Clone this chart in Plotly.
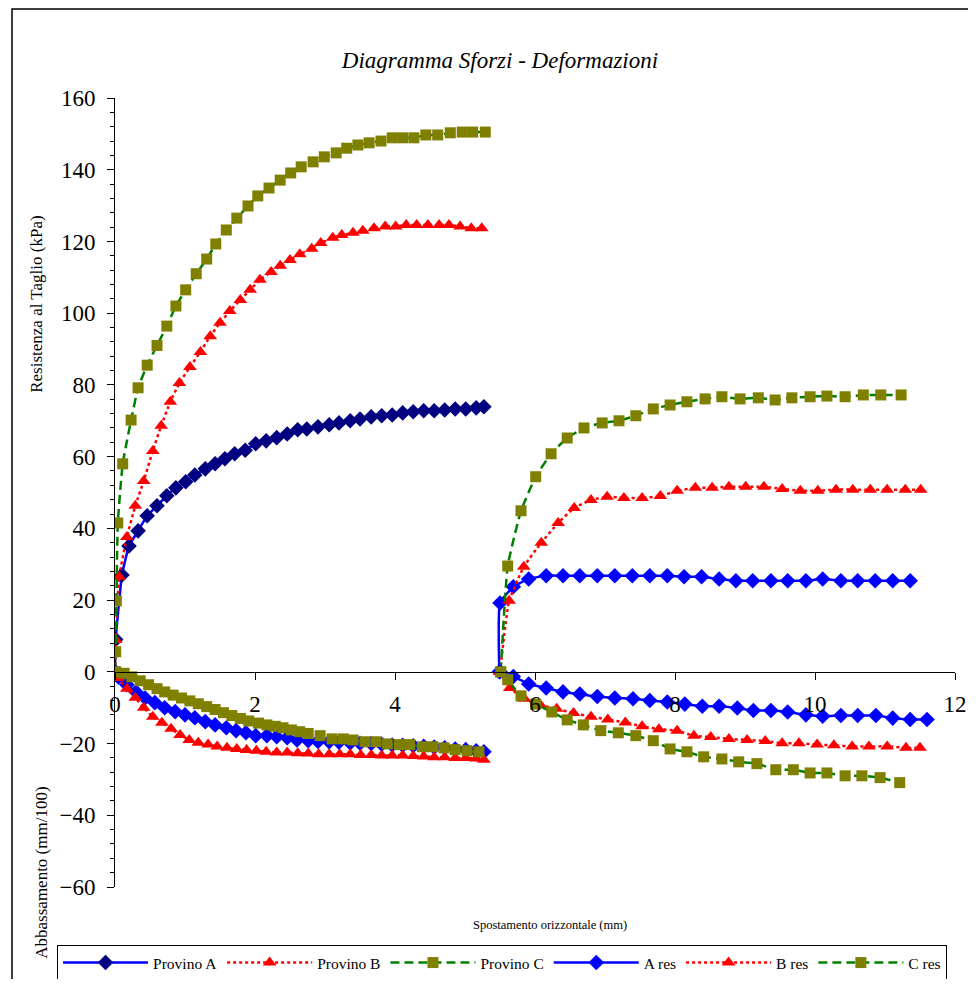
import plotly.graph_objects as go

# ---- data (mm, kPa / mm/100) ----
# shear stress, first run
A_x = [0, 0.01, 0.1, 0.2, 0.33, 0.46, 0.6, 0.74, 0.87, 1.01, 1.14, 1.29, 1.43, 1.57, 1.71, 1.86, 2.01, 2.16, 2.31, 2.46,
       2.61, 2.74, 2.9, 3.06, 3.2, 3.36, 3.5, 3.66, 3.81, 3.96, 4.11, 4.26, 4.41, 4.56, 4.71, 4.86, 5.01, 5.16, 5.27]
A_y = [0, 9, 27, 35.1, 39.3, 43.5, 46.3, 49.1, 51.3, 53, 54.9, 56.6, 58, 59.4, 60.8, 61.8, 63.6, 64.4, 65.3, 66.3,
       67.5, 67.7, 68.3, 68.9, 69.4, 70, 70.5, 71.1, 71.4, 71.6, 72.2, 72.5, 72.8, 72.8, 73, 73.3, 73.3, 73.6, 73.9]
B_x = [0, 0.01, 0.06, 0.17, 0.29, 0.41, 0.54, 0.66, 0.79, 0.92, 1.07, 1.22, 1.36, 1.5, 1.64, 1.79, 1.93, 2.07, 2.23, 2.36,
       2.5, 2.64, 2.81, 2.94, 3.11, 3.24, 3.4, 3.54, 3.7, 3.86, 4.01, 4.16, 4.31, 4.47, 4.63, 4.77, 4.93, 5.09, 5.24]
B_y = [0, 8.9, 26.5, 37.6, 46.3, 53.2, 61.6, 68.6, 75.3, 80.5, 85, 89.2, 93.6, 97.3, 100.6, 103.7, 106.5, 109.3, 111.5, 113.2,
       114.8, 116.4, 118, 119.6, 121, 121.8, 122.4, 123, 123.7, 124.2, 124.2, 124.6, 124.6, 124.6, 124.6, 124.6, 124.2, 123.7, 123.7]
C_x = [0, 0.01, 0.02, 0.04, 0.11, 0.23, 0.33, 0.46, 0.6, 0.74, 0.87, 1.01, 1.16, 1.31, 1.44, 1.59, 1.74, 1.9, 2.04, 2.2,
       2.36, 2.51, 2.66, 2.83, 2.99, 3.16, 3.31, 3.47, 3.63, 3.8, 3.96, 4.11, 4.27, 4.44, 4.61, 4.79, 4.96, 5.11, 5.29]
C_y = [0, 5.6, 19.8, 41.5, 58, 70.2, 79.2, 85.5, 91, 96.4, 102, 106.5, 111, 115.1, 119.3, 123.2, 126.5, 129.9, 132.7, 134.9,
       137.1, 139.1, 140.8, 142.2, 143.6, 144.7, 146, 146.9, 147.5, 148, 148.9, 148.9, 148.9, 149.7, 149.7, 150.3, 150.5, 150.5, 150.5]

# settlement (abbassamento), first run
A_abb_x = [0, 0.05, 0.17, 0.3, 0.43, 0.57, 0.71, 0.86, 1.0, 1.14, 1.29, 1.43, 1.59, 1.73, 1.87, 2.01, 2.17, 2.31, 2.46,
           2.6, 2.76, 2.9, 3.06, 3.2, 3.36, 3.5, 3.66, 3.81, 3.96, 4.11, 4.26, 4.41, 4.56, 4.71, 4.86, 5.01, 5.16, 5.27]
A_abb_y = [0, -1.5, -3.6, -5.6, -7.3, -8.6, -10, -11.1, -12, -12.8, -13.9, -14.8, -15.6, -16.4, -17, -17.8, -17.8, -18.1, -18.4,
           -19, -19.2, -19.4, -19.5, -19.6, -19.8, -19.9, -20, -20.2, -20.4, -20.5, -20.6, -20.8, -21, -21.2, -21.5, -21.7, -22, -22.3]
B_abb_x = [0, 0.04, 0.17, 0.29, 0.41, 0.54, 0.67, 0.8, 0.93, 1.06, 1.19, 1.33, 1.46, 1.6, 1.74, 1.88, 2.02, 2.16, 2.31, 2.46,
           2.61, 2.76, 2.91, 3.06, 3.21, 3.36, 3.51, 3.66, 3.81, 3.96, 4.11, 4.26, 4.41, 4.56, 4.71, 4.86, 5.01, 5.16, 5.27]
B_abb_y = [0, -1.7, -4.7, -7.2, -10, -12.5, -14.2, -15.9, -17.6, -19, -19.8, -20.3, -20.8, -21.2, -21.5, -21.8, -22, -22.3, -22.5, -22.5,
           -22.7, -22.8, -23, -23, -23, -23, -23.2, -23.2, -23.3, -23.3, -23.3, -23.5, -23.6, -23.8, -23.8, -24, -24, -24.2, -24.5]
C_abb_x = [0.01, 0.13, 0.24, 0.36, 0.48, 0.6, 0.71, 0.83, 0.95, 1.07, 1.19, 1.31, 1.43, 1.55, 1.67, 1.79, 1.91, 2.05, 2.17, 2.29,
           2.4, 2.52, 2.64, 2.76, 2.93, 3.1, 3.26, 3.4, 3.57, 3.73, 3.89, 4.06, 4.21, 4.39, 4.54, 4.7, 4.86, 5.03, 5.2]
C_abb_y = [0, -0.4, -1.4, -2.5, -3.6, -4.7, -5.6, -6.5, -7.3, -8.1, -8.9, -9.7, -10.5, -11.4, -12.2, -13, -13.7, -14.3, -14.8, -15.2,
           -15.6, -16.2, -16.7, -17.2, -17.8, -18.7, -18.7, -19, -19.5, -19.5, -20.1, -20.3, -20.3, -20.9, -20.9, -21.2, -21.7, -22, -22.3]

# residual runs, shear
Ares_x = [5.49, 5.5, 5.69, 5.91, 6.16, 6.4, 6.64, 6.89, 7.14, 7.39, 7.64, 7.89, 8.13, 8.38, 8.63, 8.87, 9.11, 9.37, 9.61,
          9.87, 10.11, 10.37, 10.61, 10.86, 11.11, 11.36]
Ares_y = [0, 19.2, 23.7, 25.9, 26.8, 26.8, 26.8, 26.8, 26.8, 26.8, 26.8, 26.8, 26.5, 26.5, 25.9, 25.4, 25.4, 25.4, 25.4,
          25.4, 25.9, 25.4, 25.4, 25.4, 25.4, 25.4]
Bres_x = [5.5, 5.63, 5.84, 6.09, 6.33, 6.56, 6.8, 7.03, 7.27, 7.53, 7.79, 8.03, 8.29, 8.53, 8.77, 9.01, 9.27, 9.53, 9.79,
          10.04, 10.3, 10.54, 10.79, 11.03, 11.29, 11.51]
Bres_y = [0, 19.8, 29.3, 36, 41.5, 45.7, 47.9, 48.8, 48.5, 48.5, 49, 50.5, 51.3, 51.3, 51.6, 51.6, 51.6, 51, 50.5,
          50.5, 50.8, 50.8, 50.8, 50.8, 50.8, 50.8]
Cres_x = [5.51, 5.61, 5.8, 6.01, 6.23, 6.46, 6.7, 6.96, 7.2, 7.44, 7.69, 7.93, 8.17, 8.43, 8.67, 8.93, 9.19, 9.43, 9.67,
          9.93, 10.17, 10.43, 10.69, 10.94, 11.23]
Cres_y = [0, 29.5, 44.9, 54.4, 60.8, 65.2, 68, 69.4, 70, 71.4, 73.3, 74.4, 75.3, 76.1, 76.7, 76.1, 76.4, 75.8, 76.4,
          76.7, 76.9, 76.7, 77.2, 77.2, 77.2]

# residual runs, settlement
Ares_abb_x = [5.5, 5.69, 5.91, 6.16, 6.4, 6.64, 6.89, 7.14, 7.4, 7.64, 7.89, 8.14, 8.39, 8.63, 8.89, 9.12, 9.37, 9.61,
              9.87, 10.11, 10.37, 10.61, 10.87, 11.11, 11.36, 11.6]
Ares_abb_y = [0, -1.3, -3.4, -4.5, -5.6, -6.2, -6.9, -7.3, -7.5, -8, -8.4, -9, -9.6, -9.6, -10.1, -10.8, -10.8, -11.2,
              -12, -12.4, -12.2, -12.2, -12.2, -12.9, -13.3, -13.3]
Bres_abb_x = [5.5, 5.64, 5.85, 6.08, 6.31, 6.55, 6.8, 7.04, 7.29, 7.53, 7.77, 8.03, 8.27, 8.51, 8.77, 9.03, 9.29, 9.53,
              9.77, 10.03, 10.27, 10.53, 10.77, 11.03, 11.3, 11.5]
Bres_abb_y = [0, -4.5, -7.5, -9.3, -10.3, -11.5, -12.5, -13.3, -14.1, -15.2, -16, -16.4, -17.8, -18.2, -18.7, -19, -19.3,
              -19.9, -19.9, -20.3, -20.5, -20.8, -20.8, -20.8, -21.2, -21.2]
Cres_abb_x = [5.51, 5.61, 5.8, 6.01, 6.24, 6.46, 6.69, 6.94, 7.19, 7.44, 7.69, 7.93, 8.17, 8.41, 8.67, 8.91, 9.17, 9.44,
              9.69, 9.93, 10.17, 10.43, 10.67, 10.93, 11.21]
Cres_abb_y = [0, -2.2, -6.7, -9, -11.2, -13.4, -14.8, -16.4, -17, -17.8, -19.2, -21.5, -22.3, -23.7, -24.3, -25.1, -25.6,
              -27.3, -27.3, -28.2, -28.2, -29, -29, -29.5, -30.9]

FONT = "Liberation Serif, Times New Roman, DejaVu Serif, serif"

# styles: (line colour, dash, marker symbol, marker colour)
style_A = ("#0000FF", "solid", "diamond", "#000080")
style_Ares = ("#0000FF", "solid", "diamond", "#0000FF")
style_B = ("#FF0000", "dot", "triangle-up", "#FF0000")
style_C = ("#008000", "9px,5px", "square", "#808000")


def series(x, y, name, style, legend=True):
    line_color, dash, symbol, mcolor = style
    size = {"diamond": 12, "triangle-up": 12, "square": 11}[symbol]
    return go.Scatter(
        x=x,
        y=y,
        name=name,
        mode="lines+markers",
        showlegend=legend,
        line=dict(color=line_color, width=2.5, dash=dash, shape="spline", smoothing=0.4),
        marker=dict(symbol=symbol, color=mcolor, size=size, line=dict(width=0)),
    )


fig = go.Figure()
fig.add_trace(series(A_x, A_y, "Provino A", style_A))
fig.add_trace(series(B_x, B_y, "Provino B", style_B))
fig.add_trace(series(C_x, C_y, "Provino C", style_C))
fig.add_trace(series(A_abb_x, A_abb_y, "Abb. A", style_Ares, legend=False))
fig.add_trace(series(B_abb_x, B_abb_y, "Abb. B", style_B, legend=False))
fig.add_trace(series(C_abb_x, C_abb_y, "Abb. C", style_C, legend=False))
fig.add_trace(series(Ares_x, Ares_y, "A res", style_Ares))
fig.add_trace(series(Bres_x, Bres_y, "B res", style_B))
fig.add_trace(series(Cres_x, Cres_y, "C res", style_C))
fig.add_trace(series(Ares_abb_x, Ares_abb_y, "Abb. A res", style_Ares, legend=False))
fig.add_trace(series(Bres_abb_x, Bres_abb_y, "Abb. B res", style_B, legend=False))
fig.add_trace(series(Cres_abb_x, Cres_abb_y, "Abb. C res", style_C, legend=False))

# the page adds an 8px body margin, so the figure is a bit smaller than the window
fig.update_layout(
    width=960,
    height=971,
    margin=dict(l=107, r=13, t=90, b=92, autoexpand=False),
    paper_bgcolor="white",
    plot_bgcolor="white",
    font=dict(family=FONT, color="black"),
    title=dict(
        text="<i>Diagramma Sforzi - Deformazioni</i>",
        x=0.5125,
        xanchor="center",
        y=0.9464,
        yanchor="middle",
        font=dict(family=FONT, size=23, color="black"),
    ),
    legend=dict(
        orientation="h",
        x=-0.069,
        xanchor="left",
        y=-0.0735,
        yanchor="top",
        bordercolor="black",
        borderwidth=1,
        bgcolor="white",
        font=dict(family=FONT, size=15.5, color="black"),
        itemwidth=85,
        tracegroupgap=0,
    ),
    showlegend=True,
)

fig.update_xaxes(
    range=[0, 12],
    dtick=2,
    tick0=0,
    showgrid=False,
    zeroline=False,
    showline=True,
    linecolor="black",
    linewidth=1,
    ticks="outside",
    ticklen=7,
    tickcolor="black",
    anchor="free",
    position=60 / 220,
    ticklabelstandoff=5,
    tickfont=dict(family=FONT, size=23, color="black"),
)
fig.update_yaxes(
    range=[-60, 160],
    dtick=20,
    tick0=0,
    showgrid=False,
    zeroline=False,
    showline=True,
    linecolor="black",
    linewidth=1,
    ticks="outside",
    ticklen=7,
    tickcolor="black",
    minor=dict(dtick=4, ticks="outside", ticklen=4, tickcolor="black", showgrid=False),
    ticklabelstandoff=7,
    tickfont=dict(family=FONT, size=23, color="black"),
)

# axis titles placed as in the original sheet
fig.add_annotation(text="Resistenza al Taglio (kPa)", xref="paper", yref="paper", x=-0.093, y=0.739,
                   xanchor="center", yanchor="middle",
                   textangle=-90, showarrow=False, font=dict(family=FONT, size=17))
fig.add_annotation(text="Abbassamento (mm/100)", xref="paper", yref="paper", x=-0.087, y=0.018,
                   xanchor="center", yanchor="middle",
                   textangle=-90, showarrow=False, font=dict(family=FONT, size=17))
fig.add_annotation(text="Spostamento orizzontale (mm)", xref="paper", yref="paper", x=0.518, y=-0.048,
                   xanchor="center", yanchor="middle",
                   showarrow=False, font=dict(family=FONT, size=12.5))

# chart area frame
fig.add_shape(type="rect", xref="paper", yref="paper", x0=-0.1226, x1=1.04, y0=-0.14, y1=1.1128,
              line=dict(color="black", width=1.5), fillcolor="rgba(0,0,0,0)", layer="below")

fig.write_html("out.html")
